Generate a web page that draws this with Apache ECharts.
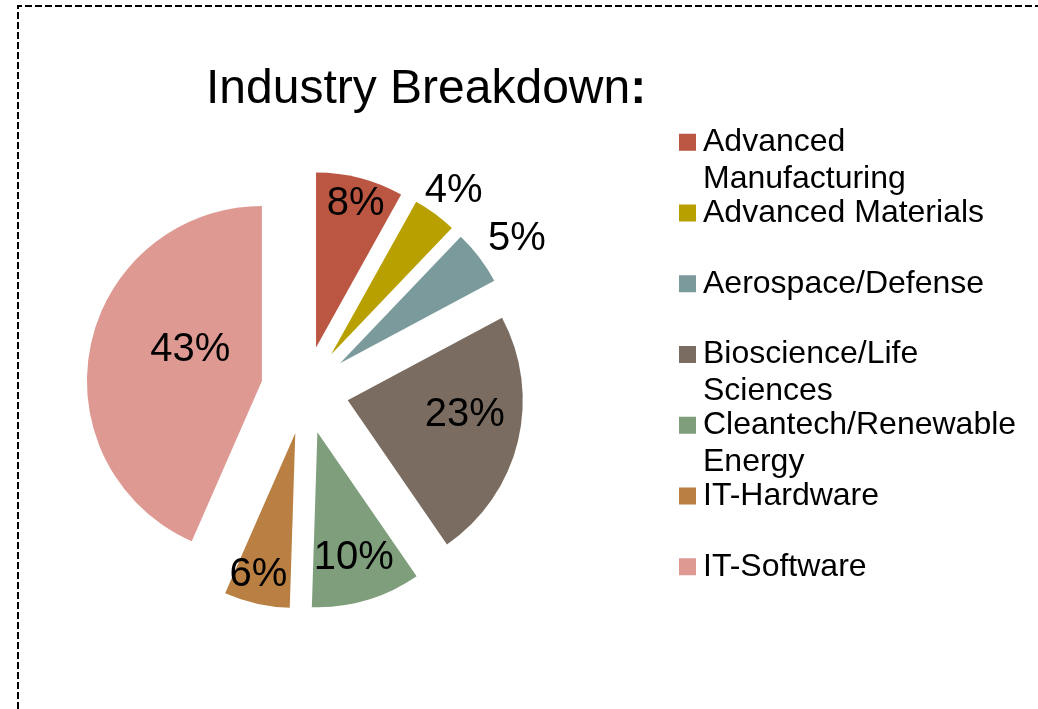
<!DOCTYPE html>
<html>
<head>
<meta charset="utf-8">
<script src="https://cdn.jsdelivr.net/npm/echarts@6/dist/echarts.min.js"></script>
<style>
  html, body { margin: 0; padding: 0; background: #fff; }
  #main { width: 1038px; height: 709px; }
</style>
</head>
<body>
<div id="main"></div>
<script>
// data
const names = ['Advanced Manufacturing', 'Advanced Materials', 'Aerospace/Defense',
  'Bioscience/Life Sciences', 'Cleantech/Renewable Energy', 'IT-Hardware', 'IT-Software'];
const legendLines = [
  ['Advanced', 'Manufacturing'], ['Advanced Materials'], ['Aerospace/Defense'],
  ['Bioscience/Life', 'Sciences'], ['Cleantech/Renewable', 'Energy'], ['IT-Hardware'], ['IT-Software']];
const counts = [8, 4, 5, 23, 10, 6, 43];

// styles
const colors = ['#BA5641', '#B8A000', '#7A9A9B', '#7A6C60', '#7F9E7C', '#B97F43', '#DE9A92'];
// label shift (px) away from the default "inside" spot
const labelNudge = [[17, -56], [69, -91], [105, -70], [29, -7], [11, 39], [-17, 54], [17, -12]];

const chart = echarts.init(document.getElementById('main'));
const font = '"Liberation Sans", Arial, sans-serif';
const LH = 36.5;

const rich = { t: { fontSize: 32, fontFamily: font, color: '#000', lineHeight: LH },
               sp: { width: 24, lineHeight: LH },
               gap: { width: 7, lineHeight: LH } };
colors.forEach(function(c, i) {
  rich['sq' + i] = { width: 17, height: 17, backgroundColor: c, lineHeight: LH };
});

function legendText(name) {
  const i = names.indexOf(name);
  const l = legendLines[i];
  let s = '{sq' + i + '|}{gap|}{t|' + l[0] + '}\n';
  s += l[1] ? '{sp|}{t|' + l[1] + '}' : '{t| }';
  return s;
}

const seriesData = names.map(function(n, i) {
  return { name: n, value: counts[i], selected: true, itemStyle: { color: colors[i] } };
});

chart.setOption({
  animation: false,
  title: {
    text: '{a|Industry Breakdown}{b|:}',
    left: 206, top: 66, padding: 0,
    textStyle: {
      fontWeight: 'normal',
      rich: {
        a: { fontSize: 48, fontFamily: font, fontWeight: 'normal', color: '#000' },
        b: { fontSize: 48, fontFamily: font, fontWeight: 'bold', color: '#000' }
      }
    }
  },
  legend: {
    orient: 'vertical',
    left: 674, top: 124, padding: 0,
    itemGap: 0, itemWidth: 0, itemHeight: 2 * LH,
    icon: 'none',
    selectedMode: false,
    data: names,
    formatter: legendText,
    textStyle: { rich: rich }
  },
  graphic: [{
    type: 'polyline',
    shape: { points: [[18, 709], [18, 6], [1038, 6]] },
    style: { stroke: '#000', lineWidth: 2, lineDash: [7, 3], fill: null },
    silent: true
  }],
  series: [{
    type: 'pie',
    center: [305, 390],
    radius: [0, 175],
    startAngle: 90,
    clockwise: true,
    selectedMode: 'multiple',
    selectedOffset: 44,
    emphasis: { disabled: true },
    select: { itemStyle: { borderWidth: 0 } },
    label: {
      show: true,
      position: 'inside',
      color: '#000',
      fontSize: 40,
      fontFamily: font,
      formatter: function(p) { return Math.round(p.percent) + '%'; }
    },
    labelLayout: function(p) {
      const n = labelNudge[p.dataIndex];
      return { dx: n[0], dy: n[1] };
    },
    labelLine: { show: false },
    data: seriesData
  }]
});
</script>
</body>
</html>
